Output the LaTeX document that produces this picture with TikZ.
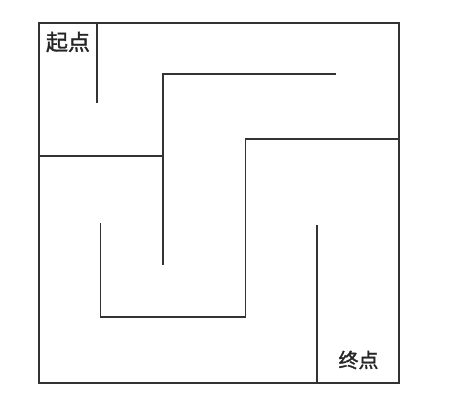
\documentclass[tikz,border=0pt]{standalone}
\usepackage{fontspec}
\newfontfamily\cjk{Noto Sans CJK SC}[FakeBold=1.5]
\begin{document}
\begin{tikzpicture}[x=1pt,y=-1pt,
  wall/.style={draw=black!80,line width=1.4pt},
  lbl/.style={font=\cjk\fontsize{22}{22}\selectfont,inner sep=0pt,text=black!85}]
\useasboundingbox (0,0) rectangle (451,411);
\coordinate (tl) at (39,23); \coordinate (br) at (399,383);
\draw[wall] (tl) rectangle (br);
\coordinate (s1) at (97,23); \coordinate (s2) at (97,103);
\coordinate (h1) at (39,156); \coordinate (h2) at (163,156);
\coordinate (a1) at (336,74); \coordinate (a2) at (163,74); \coordinate (a3) at (163,265);
\coordinate (b1) at (399,139); \coordinate (b2) at (245.5,139); \coordinate (b3) at (245.5,317); \coordinate (b4) at (100.5,317); \coordinate (b5) at (100.5,223);
\coordinate (e1) at (317,225); \coordinate (e2) at (317,383);
\draw[wall] (s1) -- (s2);
\draw[wall] (h1) -- (h2);
\draw[wall] (a1) -- (a2) -- (a3);
\draw[wall] (b1) -- (b2) -- (b3) -- (b4) -- (b5);
\draw[wall] (e1) -- (e2);
\node[lbl] (start) at (68,42) {起点};
\node[lbl,font=\cjk\fontsize{20}{20}\selectfont] (end) at (358.5,360) {终点};
\end{tikzpicture}
\end{document}
